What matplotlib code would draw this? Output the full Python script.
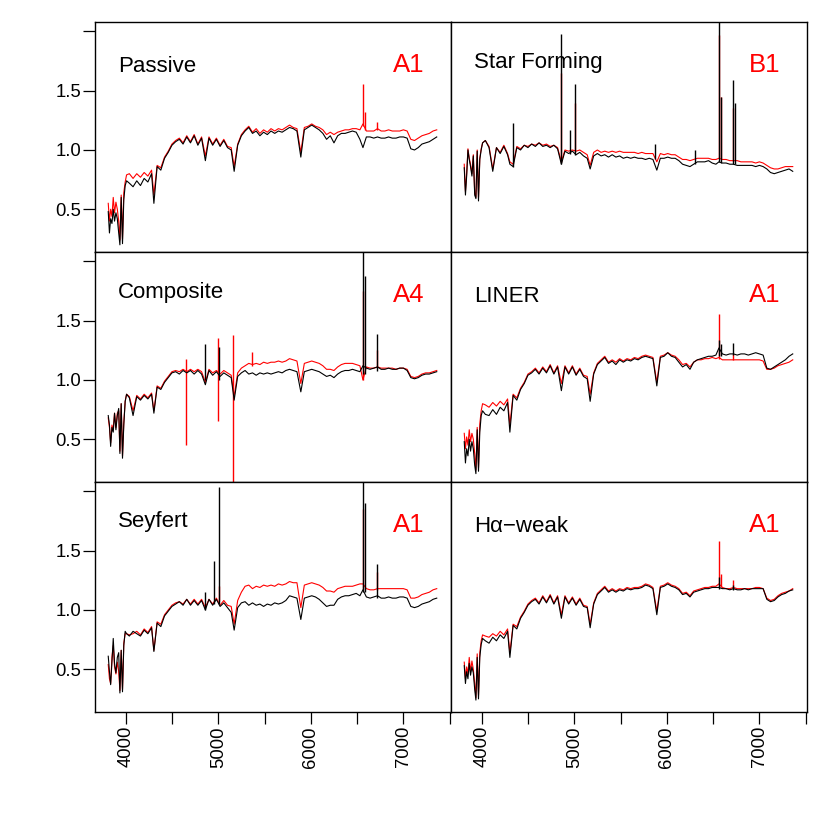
import matplotlib
matplotlib.use('Agg')
import matplotlib.pyplot as plt

plt.rcParams['font.family'] = ['Liberation Sans', 'DejaVu Sans']

# wavelength grid (Angstrom), shared by all spectra
wave = [3812, 3825, 3838, 3852, 3866, 3880, 3895, 3910, 3925, 3938,
        3952, 3966, 3980, 3995, 4010, 4040, 4080, 4120, 4160, 4200,
        4240, 4280, 4305, 4340, 4380, 4420, 4460, 4500, 4540, 4580,
        4620, 4660, 4700, 4740, 4780, 4820, 4861, 4900, 4940, 4980,
        5020, 5060, 5100, 5140, 5172, 5210, 5250, 5290, 5330, 5370,
        5410, 5450, 5490, 5530, 5570, 5610, 5650, 5690, 5730, 5770,
        5810, 5850, 5892, 5930, 5970, 6010, 6050, 6090, 6130, 6170,
        6210, 6250, 6290, 6330, 6370, 6410, 6450, 6490, 6530, 6563,
        6600, 6640, 6680, 6720, 6760, 6800, 6840, 6880, 6920, 6960,
        7000, 7040, 7080, 7120, 7160, 7200, 7240, 7280, 7320, 7360]

# Passive
pas_red = [0.55, 0.40, 0.50, 0.44, 0.60, 0.47, 0.56, 0.50, 0.40, 0.24,
           0.62, 0.25, 0.64, 0.73, 0.79, 0.80, 0.76, 0.80, 0.77, 0.81,
           0.78, 0.83, 0.62, 0.87, 0.85, 0.94, 0.99, 1.05, 1.08, 1.10,
           1.06, 1.12, 1.07, 1.13, 1.05, 1.11, 0.95, 1.11, 1.05, 1.10,
           1.04, 1.09, 1.03, 1.02, 0.86, 1.05, 1.13, 1.17, 1.20, 1.15,
           1.18, 1.14, 1.17, 1.15, 1.18, 1.16, 1.18, 1.17, 1.19, 1.21,
           1.19, 1.18, 0.98, 1.19, 1.20, 1.22, 1.20, 1.19, 1.17, 1.13,
           1.15, 1.13, 1.15, 1.16, 1.17, 1.17, 1.18, 1.18, 1.17, 1.22,
           1.16, 1.16, 1.16, 1.18, 1.16, 1.16, 1.17, 1.16, 1.16, 1.16,
           1.17, 1.16, 1.09, 1.08, 1.10, 1.12, 1.13, 1.14, 1.16, 1.17]
pas_black = [0.48, 0.30, 0.42, 0.38, 0.50, 0.40, 0.47, 0.42, 0.30, 0.20,
             0.60, 0.21, 0.58, 0.70, 0.74, 0.72, 0.69, 0.74, 0.70, 0.76,
             0.73, 0.80, 0.55, 0.86, 0.83, 0.93, 0.98, 1.04, 1.07, 1.09,
             1.05, 1.11, 1.06, 1.12, 1.04, 1.10, 0.91, 1.10, 1.04, 1.09,
             1.03, 1.08, 1.02, 1.00, 0.82, 1.04, 1.12, 1.16, 1.19, 1.14,
             1.16, 1.12, 1.15, 1.13, 1.16, 1.14, 1.16, 1.15, 1.17, 1.19,
             1.18, 1.16, 0.94, 1.17, 1.19, 1.21, 1.19, 1.17, 1.14, 1.09,
             1.12, 1.06, 1.12, 1.14, 1.14, 1.15, 1.16, 1.15, 1.09, 1.02,
             1.11, 1.11, 1.10, 1.11, 1.10, 1.10, 1.11, 1.10, 1.10, 1.11,
             1.11, 1.10, 1.01, 1.00, 1.02, 1.05, 1.06, 1.07, 1.09, 1.11]
pas_red_lines = [(6563, 1.20, 1.56), (6583, 1.17, 1.32), (6717, 1.17, 1.24)]
pas_black_lines = []

# Star Forming
sf_red = [0.88, 0.65, 0.80, 1.01, 0.93, 0.88, 0.80, 0.96, 0.64, 0.60,
          1.00, 0.60, 0.93, 1.01, 1.06, 1.08, 1.03, 0.84, 1.02, 0.98,
          1.04, 0.97, 0.90, 0.88, 1.03, 1.01, 1.04, 1.03, 1.05, 1.04,
          1.06, 1.04, 1.05, 1.03, 1.04, 1.02, 0.90, 1.00, 0.99, 1.00,
          0.99, 1.00, 0.98, 0.96, 0.87, 0.98, 1.00, 0.98, 0.99, 0.98,
          0.99, 0.98, 0.99, 0.98, 0.98, 0.98, 0.98, 0.97, 0.98, 0.97,
          0.97, 0.97, 0.90, 0.97, 0.96, 0.97, 0.96, 0.96, 0.94, 0.92,
          0.92, 0.91, 0.92, 0.93, 0.93, 0.93, 0.93, 0.92, 0.92, 0.93,
          0.92, 0.92, 0.91, 0.91, 0.91, 0.90, 0.90, 0.90, 0.90, 0.89,
          0.90, 0.89, 0.87, 0.85, 0.84, 0.84, 0.85, 0.86, 0.86, 0.86]
sf_black = [0.85, 0.62, 0.78, 1.00, 0.92, 0.86, 0.78, 0.95, 0.62, 0.59,
            0.99, 0.57, 0.92, 1.00, 1.06, 1.08, 1.02, 0.82, 1.02, 0.97,
            1.03, 0.96, 0.88, 0.86, 1.02, 1.00, 1.04, 1.02, 1.05, 1.03,
            1.06, 1.03, 1.04, 1.02, 1.04, 1.01, 0.88, 0.99, 0.97, 0.99,
            0.96, 0.98, 0.95, 0.93, 0.84, 0.95, 0.97, 0.95, 0.96, 0.94,
            0.96, 0.94, 0.95, 0.93, 0.94, 0.93, 0.94, 0.93, 0.93, 0.92,
            0.93, 0.92, 0.83, 0.93, 0.93, 0.94, 0.93, 0.93, 0.91, 0.88,
            0.87, 0.86, 0.88, 0.90, 0.90, 0.90, 0.91, 0.89, 0.88, 0.90,
            0.89, 0.89, 0.88, 0.88, 0.87, 0.87, 0.87, 0.87, 0.87, 0.86,
            0.87, 0.86, 0.84, 0.81, 0.80, 0.81, 0.82, 0.83, 0.84, 0.82]
sf_red_lines = [(4861, 0.90, 1.65), (5007, 0.99, 1.40), (6563, 0.93, 1.97),
                (6583, 0.92, 1.45), (6717, 0.91, 1.35)]
sf_black_lines = [(4340, 0.86, 1.23), (4861, 0.88, 1.98), (4959, 0.97, 1.17),
                  (5007, 0.96, 1.56), (5876, 0.92, 1.05), (6300, 0.88, 1.00),
                  (6563, 0.90, 2.20), (6583, 0.89, 1.45), (6717, 0.88, 1.59),
                  (6731, 0.88, 1.40)]

# Composite
com_red = [0.68, 0.60, 0.47, 0.62, 0.58, 0.72, 0.60, 0.72, 0.74, 0.40,
           0.80, 0.36, 0.64, 0.82, 0.88, 0.86, 0.74, 0.87, 0.84, 0.88,
           0.85, 0.89, 0.74, 0.95, 0.93, 0.99, 1.03, 1.07, 1.08, 1.07,
           1.09, 1.07, 1.09, 1.07, 1.09, 1.07, 0.98, 1.09, 1.06, 1.08,
           1.05, 1.08, 1.06, 1.04, 0.86, 1.06, 1.10, 1.12, 1.14, 1.13,
           1.14, 1.13, 1.15, 1.14, 1.15, 1.15, 1.16, 1.15, 1.16, 1.18,
           1.17, 1.16, 0.97, 1.14, 1.15, 1.16, 1.15, 1.14, 1.12, 1.09,
           1.09, 1.08, 1.11, 1.13, 1.14, 1.14, 1.14, 1.13, 1.12, 1.00,
           1.11, 1.10, 1.10, 1.11, 1.10, 1.10, 1.10, 1.10, 1.09, 1.10,
           1.10, 1.09, 1.03, 1.02, 1.03, 1.05, 1.06, 1.06, 1.07, 1.08]
com_black = [0.70, 0.62, 0.44, 0.60, 0.56, 0.72, 0.58, 0.70, 0.76, 0.38,
             0.80, 0.34, 0.62, 0.82, 0.88, 0.85, 0.70, 0.86, 0.83, 0.87,
             0.84, 0.88, 0.72, 0.94, 0.92, 0.98, 1.02, 1.06, 1.07, 1.05,
             1.08, 1.06, 1.08, 1.05, 1.08, 1.05, 0.96, 1.08, 1.04, 1.07,
             1.03, 1.06, 1.04, 1.02, 0.83, 1.03, 1.06, 1.08, 1.05, 1.06,
             1.04, 1.06, 1.05, 1.06, 1.05, 1.06, 1.07, 1.06, 1.08, 1.09,
             1.08, 1.07, 0.90, 1.07, 1.08, 1.09, 1.08, 1.07, 1.05, 1.03,
             1.04, 1.02, 1.05, 1.07, 1.08, 1.08, 1.09, 1.08, 1.07, 1.12,
             1.10, 1.09, 1.10, 1.11, 1.09, 1.09, 1.10, 1.09, 1.09, 1.10,
             1.10, 1.08, 1.02, 1.01, 1.02, 1.04, 1.05, 1.05, 1.06, 1.07]
com_red_lines = [(4652, 0.45, 1.18), (5000, 0.65, 1.35), (5156, 0.0, 1.38),
                 (5361, 1.12, 1.24), (6563, 1.00, 1.75), (6717, 1.10, 1.25)]
com_black_lines = [(4861, 1.00, 1.30), (5007, 1.00, 1.28), (6563, 1.05, 2.20),
                   (6583, 1.05, 1.88), (6717, 1.08, 1.39)]

# LINER
lin_red = [0.55, 0.42, 0.52, 0.45, 0.58, 0.48, 0.55, 0.50, 0.38, 0.24,
           0.60, 0.26, 0.63, 0.74, 0.80, 0.79, 0.77, 0.81, 0.78, 0.82,
           0.79, 0.84, 0.62, 0.88, 0.85, 0.93, 0.98, 1.05, 1.07, 1.10,
           1.06, 1.11, 1.07, 1.13, 1.06, 1.12, 0.97, 1.12, 1.06, 1.12,
           1.05, 1.10, 1.04, 1.03, 0.88, 1.06, 1.14, 1.17, 1.20, 1.15,
           1.17, 1.15, 1.18, 1.16, 1.18, 1.17, 1.19, 1.18, 1.20, 1.21,
           1.20, 1.19, 0.98, 1.20, 1.21, 1.23, 1.21, 1.20, 1.17, 1.13,
           1.14, 1.11, 1.15, 1.17, 1.17, 1.18, 1.18, 1.19, 1.18, 1.19,
           1.17, 1.17, 1.17, 1.17, 1.17, 1.17, 1.17, 1.17, 1.17, 1.17,
           1.17, 1.16, 1.09, 1.09, 1.10, 1.12, 1.13, 1.14, 1.15, 1.17]
lin_black = [0.48, 0.30, 0.42, 0.36, 0.50, 0.40, 0.48, 0.42, 0.28, 0.21,
             0.58, 0.23, 0.56, 0.70, 0.74, 0.71, 0.70, 0.75, 0.71, 0.77,
             0.74, 0.81, 0.56, 0.87, 0.83, 0.92, 0.97, 1.04, 1.06, 1.09,
             1.05, 1.10, 1.06, 1.12, 1.05, 1.11, 0.91, 1.11, 1.05, 1.11,
             1.04, 1.09, 1.03, 1.01, 0.82, 1.05, 1.13, 1.16, 1.19, 1.14,
             1.16, 1.13, 1.17, 1.15, 1.17, 1.16, 1.18, 1.17, 1.19, 1.20,
             1.19, 1.18, 0.95, 1.19, 1.20, 1.23, 1.20, 1.19, 1.15, 1.11,
             1.13, 1.09, 1.15, 1.17, 1.18, 1.19, 1.20, 1.20, 1.21, 1.27,
             1.22, 1.21, 1.22, 1.22, 1.21, 1.22, 1.22, 1.21, 1.22, 1.23,
             1.22, 1.21, 1.10, 1.09, 1.11, 1.13, 1.15, 1.17, 1.20, 1.22]
lin_red_lines = [(6563, 1.18, 1.56), (6717, 1.17, 1.22)]
lin_black_lines = [(6563, 1.20, 1.34), (6583, 1.20, 1.30), (6717, 1.21, 1.31)]

# Seyfert
sey_red = [0.54, 0.42, 0.38, 0.60, 0.70, 0.52, 0.46, 0.56, 0.48, 0.32,
           0.66, 0.33, 0.72, 0.80, 0.80, 0.79, 0.80, 0.82, 0.79, 0.84,
           0.81, 0.86, 0.66, 0.90, 0.88, 0.96, 1.00, 1.04, 1.06, 1.07,
           1.05, 1.09, 1.05, 1.09, 1.05, 1.09, 1.02, 1.09, 1.05, 1.10,
           1.04, 1.08, 1.04, 1.03, 0.88, 1.08, 1.15, 1.20, 1.21, 1.18,
           1.20, 1.19, 1.21, 1.20, 1.21, 1.20, 1.22, 1.21, 1.22, 1.24,
           1.23, 1.23, 1.02, 1.21, 1.22, 1.23, 1.22, 1.21, 1.19, 1.16,
           1.16, 1.15, 1.18, 1.19, 1.20, 1.20, 1.20, 1.21, 1.22, 1.22,
           1.18, 1.17, 1.17, 1.18, 1.18, 1.18, 1.18, 1.18, 1.18, 1.18,
           1.18, 1.17, 1.10, 1.10, 1.11, 1.13, 1.14, 1.15, 1.17, 1.18]
sey_black = [0.61, 0.48, 0.37, 0.56, 0.76, 0.55, 0.47, 0.60, 0.64, 0.30,
             0.66, 0.31, 0.70, 0.82, 0.80, 0.78, 0.82, 0.80, 0.78, 0.83,
             0.80, 0.85, 0.65, 0.89, 0.86, 0.95, 0.99, 1.03, 1.05, 1.07,
             1.04, 1.09, 1.04, 1.08, 1.04, 1.08, 1.00, 1.09, 1.04, 1.09,
             1.03, 1.06, 1.02, 0.98, 0.83, 1.02, 1.06, 1.07, 1.04, 1.06,
             1.04, 1.05, 1.03, 1.05, 1.04, 1.06, 1.05, 1.06, 1.08, 1.12,
             1.11, 1.10, 0.92, 1.10, 1.11, 1.12, 1.11, 1.09, 1.06, 1.03,
             1.04, 1.04, 1.09, 1.11, 1.12, 1.12, 1.13, 1.14, 1.12, 1.17,
             1.11, 1.10, 1.11, 1.12, 1.10, 1.10, 1.11, 1.10, 1.10, 1.11,
             1.11, 1.10, 1.03, 1.02, 1.03, 1.05, 1.06, 1.07, 1.09, 1.10]
sey_red_lines = [(5007, 1.08, 1.20), (6563, 1.17, 1.85), (6717, 1.17, 1.32)]
sey_black_lines = [(4861, 1.00, 1.15), (4959, 1.05, 1.41), (5007, 1.05, 2.04),
                   (6563, 1.15, 2.20), (6583, 1.15, 1.90), (6717, 1.10, 1.39)]

# H-alpha weak
hw_red = [0.56, 0.42, 0.52, 0.46, 0.60, 0.48, 0.57, 0.50, 0.38, 0.26,
          0.63, 0.28, 0.64, 0.74, 0.79, 0.78, 0.77, 0.80, 0.78, 0.82,
          0.79, 0.84, 0.64, 0.88, 0.86, 0.94, 0.99, 1.05, 1.08, 1.10,
          1.06, 1.12, 1.07, 1.13, 1.06, 1.12, 0.96, 1.12, 1.06, 1.11,
          1.05, 1.10, 1.04, 1.03, 0.88, 1.06, 1.14, 1.17, 1.20, 1.16,
          1.18, 1.16, 1.18, 1.17, 1.19, 1.18, 1.19, 1.19, 1.20, 1.22,
          1.21, 1.19, 0.99, 1.20, 1.21, 1.23, 1.21, 1.20, 1.18, 1.14,
          1.15, 1.12, 1.16, 1.17, 1.18, 1.19, 1.19, 1.20, 1.20, 1.22,
          1.19, 1.18, 1.18, 1.19, 1.18, 1.18, 1.18, 1.18, 1.18, 1.19,
          1.19, 1.18, 1.10, 1.08, 1.09, 1.12, 1.14, 1.15, 1.16, 1.18]
hw_black = [0.53, 0.38, 0.48, 0.42, 0.55, 0.45, 0.52, 0.47, 0.33, 0.24,
            0.60, 0.25, 0.60, 0.71, 0.76, 0.74, 0.72, 0.77, 0.74, 0.79,
            0.76, 0.82, 0.60, 0.87, 0.84, 0.93, 0.98, 1.04, 1.07, 1.09,
            1.05, 1.11, 1.06, 1.12, 1.05, 1.11, 0.93, 1.11, 1.05, 1.10,
            1.04, 1.09, 1.03, 1.02, 0.85, 1.05, 1.13, 1.16, 1.19, 1.15,
            1.17, 1.15, 1.17, 1.16, 1.18, 1.17, 1.18, 1.18, 1.19, 1.21,
            1.20, 1.18, 0.96, 1.19, 1.20, 1.22, 1.20, 1.19, 1.17, 1.13,
            1.14, 1.11, 1.15, 1.16, 1.17, 1.18, 1.18, 1.19, 1.19, 1.19,
            1.18, 1.18, 1.17, 1.18, 1.17, 1.17, 1.18, 1.17, 1.18, 1.18,
            1.18, 1.18, 1.09, 1.07, 1.08, 1.11, 1.13, 1.14, 1.16, 1.17]
hw_red_lines = [(6563, 1.20, 1.58), (6583, 1.19, 1.30), (6717, 1.18, 1.25)]
hw_black_lines = [(6563, 1.18, 1.28), (6717, 1.17, 1.21)]

names = ['Passive', 'Star Forming', 'Composite', 'LINER', 'Seyfert', 'H\u03b1\u2212weak']
classes = ['A1', 'B1', 'A4', 'A1', 'A1', 'A1']
reds = [pas_red, sf_red, com_red, lin_red, sey_red, hw_red]
blacks = [pas_black, sf_black, com_black, lin_black, sey_black, hw_black]
red_lines = [pas_red_lines, sf_red_lines, com_red_lines, lin_red_lines, sey_red_lines, hw_red_lines]
black_lines = [pas_black_lines, sf_black_lines, com_black_lines, lin_black_lines, sey_black_lines, hw_black_lines]

name_y = [0.783, 0.80, 0.80, 0.783, 0.804, 0.785]

fig = plt.figure(figsize=(8.3, 8.3), dpi=100)
lefts = [95/830, 451/830]
bottoms = [1-252.3/830, 1-482.3/830, 1-712.3/830]
pw, ph = 356/830, 230/830

for k in range(6):
    row, col = divmod(k, 2)
    ax = fig.add_axes([lefts[col], bottoms[row], pw, ph])
    ax.plot(wave, reds[k], color='red', lw=0.8)
    for w, lo, hi in red_lines[k]:
        ax.vlines(w, lo, hi, color='red', lw=1.0)
    ax.plot(wave, blacks[k], color='black', lw=0.8)
    for w, lo, hi in black_lines[k]:
        ax.vlines(w, lo, hi, color='black', lw=1.0)
    ax.set_xlim(3669, 7514)
    ax.set_ylim(0.137, 2.077)
    for s in ax.spines.values():
        s.set_linewidth(1.0)
    ax.tick_params(direction='out', length=8.4, width=0.9, labelsize=13.3, pad=1.5)
    if col == 0:
        ax.set_yticks([0.5, 1.0, 1.5, 2.0])
        ax.set_yticklabels(['0.5', '1.0', '1.5', ''])
    else:
        ax.set_yticks([])
    if row == 2:
        ax.set_xticks([4000, 4500, 5000, 5500, 6000, 6500, 7000, 7500])
        ax.set_xticklabels(['4000', '', '5000', '', '6000', '', '7000', ''], rotation=90)
    else:
        ax.set_xticks([])
    ax.text(0.065, name_y[k], names[k], transform=ax.transAxes, fontsize=16,
            ha='left', va='baseline')
    ax.text(0.926, 0.783, classes[k], transform=ax.transAxes, fontsize=18.5,
            color='red', ha='right', va='baseline')

fig.savefig('out.png', dpi=100)
